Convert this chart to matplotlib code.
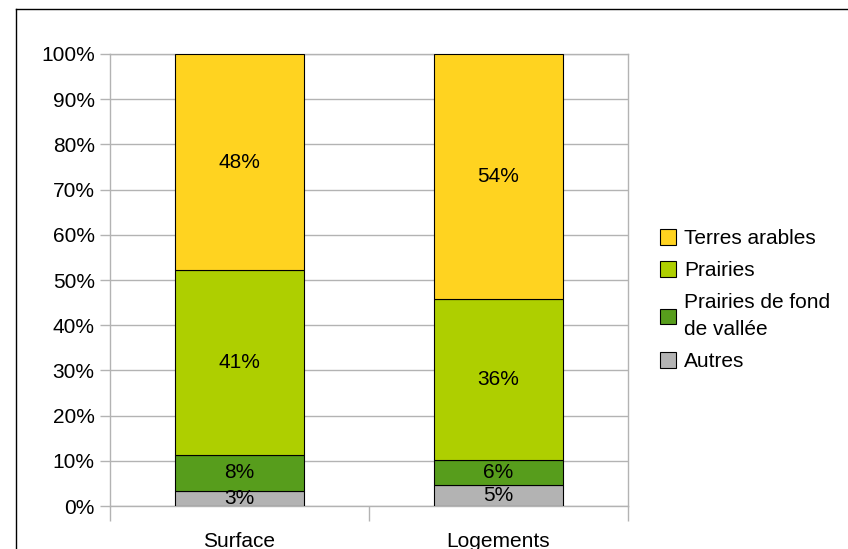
import matplotlib
matplotlib.use("Agg")
import matplotlib.pyplot as plt
from matplotlib.lines import Line2D
from matplotlib.patches import Patch
import numpy as np

plt.rcParams['font.family'] = ['Liberation Sans', 'DejaVu Sans']

categories = ["Surface", "Logements"]
series_names = ["Autres", "Prairies de fond de vallée", "Prairies", "Terres arables"]
autres = [3.4, 4.6]
prairies_fond = [7.9, 5.6]
prairies = [40.9, 35.6]
terres_arables = [47.8, 54.2]
colors = ["#B3B3B3", "#579D1C", "#AECF00", "#FFD320"]
y_ticks = [0, 10, 20, 30, 40, 50, 60, 70, 80, 90, 100]

FS = 15

fig = plt.figure(figsize=(8.48, 5.49), dpi=100)
ax = fig.add_axes([110/848, 43/549, 518/848, 452/549])

x = np.arange(len(categories))
series = [autres, prairies_fond, prairies, terres_arables]
bottom = np.zeros(len(categories))
for vals, col in zip(series, colors):
    vals = np.array(vals)
    ax.bar(x, vals, width=0.5, bottom=bottom, color=col, edgecolor="black", linewidth=0.8, zorder=3)
    for xi, v, b in zip(x, vals, bottom):
        ax.text(xi, b + v/2, f"{v:.0f}%", ha="center", va="center", fontsize=FS, zorder=4)
    bottom += vals

ax.set_xlim(-0.5, 1.5)
ax.set_ylim(0, 100)
ax.set_yticks(y_ticks)
ax.set_yticklabels([f"{t}%" for t in y_ticks], fontsize=FS)
ax.set_xticks(x)
ax.set_xticklabels(categories, fontsize=FS)
ax.set_xticks([-0.5, 0.5, 1.5], minor=True)
ax.tick_params(axis="x", which="major", length=0, pad=19)
ax.tick_params(axis="x", which="minor", length=11, color="#b3b3b3", width=1)
ax.tick_params(axis="y", length=7, color="#b3b3b3", width=1, pad=4)
ax.yaxis.grid(True, color="#b3b3b3", linewidth=1, zorder=0)
for s in ax.spines.values():
    s.set_color("#b3b3b3")
    s.set_linewidth(1)

handles = [Patch(facecolor=c, edgecolor="black", linewidth=0.8) for c in colors[::-1]]
labels = ["Terres arables", "Prairies", "Prairies de fond\nde vallée", "Autres"]
leg = fig.legend(handles, labels, loc="upper left", bbox_to_anchor=(652/848, 1 - 221/549),
                 frameon=False, fontsize=FS, handlelength=0.75, handleheight=0.75,
                 handletextpad=0.4, labelspacing=0.62, borderaxespad=0)
for t in leg.get_texts():
    t.set_linespacing(1.55)

# figure border (top and left)
fig.add_artist(Line2D([16/848, 1], [1 - 9/549, 1 - 9/549], color="black", linewidth=1, transform=fig.transFigure))
fig.add_artist(Line2D([16/848, 16/848], [0, 1 - 9/549], color="black", linewidth=1, transform=fig.transFigure))

fig.savefig("out.png", dpi=100)
